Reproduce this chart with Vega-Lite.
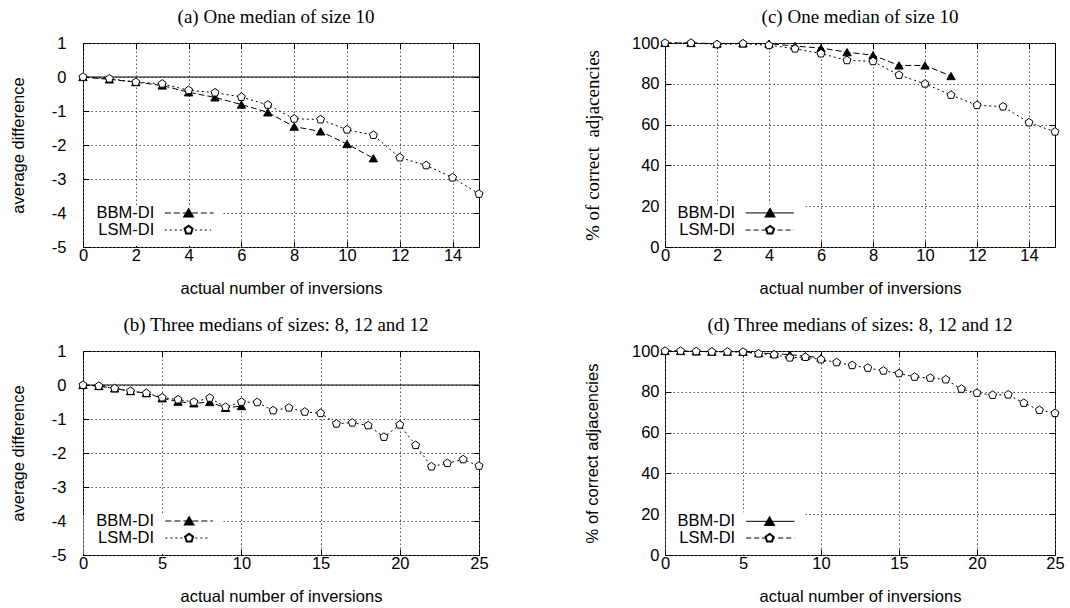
{
  "$schema": "https://vega.github.io/schema/vega-lite/v6.json",
  "padding": {"left": 9, "top": 7, "right": 5, "bottom": 5},
  "bounds": "flush",
  "columns": 2,
  "spacing": {"row": 104, "column": 186},
  "datasets": {
    "pts": [
      {"panel": "a", "series": "BBM-DI", "x": 0, "y": 0},
      {"panel": "a", "series": "BBM-DI", "x": 1, "y": -0.07},
      {"panel": "a", "series": "BBM-DI", "x": 2, "y": -0.15},
      {"panel": "a", "series": "BBM-DI", "x": 3, "y": -0.25},
      {"panel": "a", "series": "BBM-DI", "x": 4, "y": -0.45},
      {"panel": "a", "series": "BBM-DI", "x": 5, "y": -0.6},
      {"panel": "a", "series": "BBM-DI", "x": 6, "y": -0.81},
      {"panel": "a", "series": "BBM-DI", "x": 7, "y": -1.04},
      {"panel": "a", "series": "BBM-DI", "x": 8, "y": -1.46},
      {"panel": "a", "series": "BBM-DI", "x": 9, "y": -1.6},
      {"panel": "a", "series": "BBM-DI", "x": 10, "y": -1.97},
      {"panel": "a", "series": "BBM-DI", "x": 11, "y": -2.39},
      {"panel": "a", "series": "LSM-DI", "x": 0, "y": 0},
      {"panel": "a", "series": "LSM-DI", "x": 1, "y": -0.05},
      {"panel": "a", "series": "LSM-DI", "x": 2, "y": -0.15},
      {"panel": "a", "series": "LSM-DI", "x": 3, "y": -0.2},
      {"panel": "a", "series": "LSM-DI", "x": 4, "y": -0.39},
      {"panel": "a", "series": "LSM-DI", "x": 5, "y": -0.46},
      {"panel": "a", "series": "LSM-DI", "x": 6, "y": -0.59},
      {"panel": "a", "series": "LSM-DI", "x": 7, "y": -0.82},
      {"panel": "a", "series": "LSM-DI", "x": 8, "y": -1.23},
      {"panel": "a", "series": "LSM-DI", "x": 9, "y": -1.25},
      {"panel": "a", "series": "LSM-DI", "x": 10, "y": -1.55},
      {"panel": "a", "series": "LSM-DI", "x": 11, "y": -1.71},
      {"panel": "a", "series": "LSM-DI", "x": 12, "y": -2.37},
      {"panel": "a", "series": "LSM-DI", "x": 13, "y": -2.6},
      {"panel": "a", "series": "LSM-DI", "x": 14, "y": -2.96},
      {"panel": "a", "series": "LSM-DI", "x": 15, "y": -3.44},
      {"panel": "c", "series": "BBM-DI", "x": 0, "y": 100},
      {"panel": "c", "series": "BBM-DI", "x": 1, "y": 100},
      {"panel": "c", "series": "BBM-DI", "x": 2, "y": 99.7},
      {"panel": "c", "series": "BBM-DI", "x": 3, "y": 99.8},
      {"panel": "c", "series": "BBM-DI", "x": 4, "y": 99.7},
      {"panel": "c", "series": "BBM-DI", "x": 5, "y": 98.5},
      {"panel": "c", "series": "BBM-DI", "x": 6, "y": 97.5},
      {"panel": "c", "series": "BBM-DI", "x": 7, "y": 95.5},
      {"panel": "c", "series": "BBM-DI", "x": 8, "y": 94},
      {"panel": "c", "series": "BBM-DI", "x": 9, "y": 89},
      {"panel": "c", "series": "BBM-DI", "x": 10, "y": 89},
      {"panel": "c", "series": "BBM-DI", "x": 11, "y": 83.8},
      {"panel": "c", "series": "LSM-DI", "x": 0, "y": 100},
      {"panel": "c", "series": "LSM-DI", "x": 1, "y": 100},
      {"panel": "c", "series": "LSM-DI", "x": 2, "y": 99.3},
      {"panel": "c", "series": "LSM-DI", "x": 3, "y": 99.7},
      {"panel": "c", "series": "LSM-DI", "x": 4, "y": 98.9},
      {"panel": "c", "series": "LSM-DI", "x": 5, "y": 97.2},
      {"panel": "c", "series": "LSM-DI", "x": 6, "y": 94.8},
      {"panel": "c", "series": "LSM-DI", "x": 7, "y": 91.5},
      {"panel": "c", "series": "LSM-DI", "x": 8, "y": 91},
      {"panel": "c", "series": "LSM-DI", "x": 9, "y": 84.3},
      {"panel": "c", "series": "LSM-DI", "x": 10, "y": 80},
      {"panel": "c", "series": "LSM-DI", "x": 11, "y": 74.5},
      {"panel": "c", "series": "LSM-DI", "x": 12, "y": 69.5},
      {"panel": "c", "series": "LSM-DI", "x": 13, "y": 68.8},
      {"panel": "c", "series": "LSM-DI", "x": 14, "y": 61},
      {"panel": "c", "series": "LSM-DI", "x": 15, "y": 56.5},
      {"panel": "b", "series": "BBM-DI", "x": 0, "y": 0},
      {"panel": "b", "series": "BBM-DI", "x": 1, "y": -0.03},
      {"panel": "b", "series": "BBM-DI", "x": 2, "y": -0.1},
      {"panel": "b", "series": "BBM-DI", "x": 3, "y": -0.18},
      {"panel": "b", "series": "BBM-DI", "x": 4, "y": -0.24},
      {"panel": "b", "series": "BBM-DI", "x": 5, "y": -0.39},
      {"panel": "b", "series": "BBM-DI", "x": 6, "y": -0.49},
      {"panel": "b", "series": "BBM-DI", "x": 7, "y": -0.54},
      {"panel": "b", "series": "BBM-DI", "x": 8, "y": -0.5},
      {"panel": "b", "series": "BBM-DI", "x": 9, "y": -0.67},
      {"panel": "b", "series": "BBM-DI", "x": 10, "y": -0.62},
      {"panel": "b", "series": "LSM-DI", "x": 0, "y": 0},
      {"panel": "b", "series": "LSM-DI", "x": 1, "y": -0.03},
      {"panel": "b", "series": "LSM-DI", "x": 2, "y": -0.1},
      {"panel": "b", "series": "LSM-DI", "x": 3, "y": -0.18},
      {"panel": "b", "series": "LSM-DI", "x": 4, "y": -0.24},
      {"panel": "b", "series": "LSM-DI", "x": 5, "y": -0.37},
      {"panel": "b", "series": "LSM-DI", "x": 6, "y": -0.43},
      {"panel": "b", "series": "LSM-DI", "x": 7, "y": -0.5},
      {"panel": "b", "series": "LSM-DI", "x": 8, "y": -0.38},
      {"panel": "b", "series": "LSM-DI", "x": 9, "y": -0.65},
      {"panel": "b", "series": "LSM-DI", "x": 10, "y": -0.5},
      {"panel": "b", "series": "LSM-DI", "x": 11, "y": -0.51},
      {"panel": "b", "series": "LSM-DI", "x": 12, "y": -0.75},
      {"panel": "b", "series": "LSM-DI", "x": 13, "y": -0.67},
      {"panel": "b", "series": "LSM-DI", "x": 14, "y": -0.79},
      {"panel": "b", "series": "LSM-DI", "x": 15, "y": -0.83},
      {"panel": "b", "series": "LSM-DI", "x": 16, "y": -1.14},
      {"panel": "b", "series": "LSM-DI", "x": 17, "y": -1.11},
      {"panel": "b", "series": "LSM-DI", "x": 18, "y": -1.19},
      {"panel": "b", "series": "LSM-DI", "x": 19, "y": -1.53},
      {"panel": "b", "series": "LSM-DI", "x": 20, "y": -1.17},
      {"panel": "b", "series": "LSM-DI", "x": 21, "y": -1.77},
      {"panel": "b", "series": "LSM-DI", "x": 22, "y": -2.4},
      {"panel": "b", "series": "LSM-DI", "x": 23, "y": -2.3},
      {"panel": "b", "series": "LSM-DI", "x": 24, "y": -2.19},
      {"panel": "b", "series": "LSM-DI", "x": 25, "y": -2.38},
      {"panel": "d", "series": "BBM-DI", "x": 0, "y": 100},
      {"panel": "d", "series": "BBM-DI", "x": 1, "y": 100},
      {"panel": "d", "series": "BBM-DI", "x": 2, "y": 99.8},
      {"panel": "d", "series": "BBM-DI", "x": 3, "y": 99.7},
      {"panel": "d", "series": "BBM-DI", "x": 4, "y": 99.7},
      {"panel": "d", "series": "BBM-DI", "x": 5, "y": 99.6},
      {"panel": "d", "series": "BBM-DI", "x": 6, "y": 99},
      {"panel": "d", "series": "BBM-DI", "x": 7, "y": 98.7},
      {"panel": "d", "series": "BBM-DI", "x": 8, "y": 98.2},
      {"panel": "d", "series": "BBM-DI", "x": 9, "y": 97.5},
      {"panel": "d", "series": "BBM-DI", "x": 10, "y": 96.7},
      {"panel": "d", "series": "LSM-DI", "x": 0, "y": 100},
      {"panel": "d", "series": "LSM-DI", "x": 1, "y": 100},
      {"panel": "d", "series": "LSM-DI", "x": 2, "y": 99.8},
      {"panel": "d", "series": "LSM-DI", "x": 3, "y": 99.6},
      {"panel": "d", "series": "LSM-DI", "x": 4, "y": 99.6},
      {"panel": "d", "series": "LSM-DI", "x": 5, "y": 99.5},
      {"panel": "d", "series": "LSM-DI", "x": 6, "y": 98.7},
      {"panel": "d", "series": "LSM-DI", "x": 7, "y": 98.2},
      {"panel": "d", "series": "LSM-DI", "x": 8, "y": 96.7},
      {"panel": "d", "series": "LSM-DI", "x": 9, "y": 97},
      {"panel": "d", "series": "LSM-DI", "x": 10, "y": 95.8},
      {"panel": "d", "series": "LSM-DI", "x": 11, "y": 94.4},
      {"panel": "d", "series": "LSM-DI", "x": 12, "y": 93},
      {"panel": "d", "series": "LSM-DI", "x": 13, "y": 91.7},
      {"panel": "d", "series": "LSM-DI", "x": 14, "y": 90.3},
      {"panel": "d", "series": "LSM-DI", "x": 15, "y": 89},
      {"panel": "d", "series": "LSM-DI", "x": 16, "y": 87.3},
      {"panel": "d", "series": "LSM-DI", "x": 17, "y": 86.8},
      {"panel": "d", "series": "LSM-DI", "x": 18, "y": 86},
      {"panel": "d", "series": "LSM-DI", "x": 19, "y": 81.4},
      {"panel": "d", "series": "LSM-DI", "x": 20, "y": 79.4},
      {"panel": "d", "series": "LSM-DI", "x": 21, "y": 78.4},
      {"panel": "d", "series": "LSM-DI", "x": 22, "y": 78.6},
      {"panel": "d", "series": "LSM-DI", "x": 23, "y": 74.5},
      {"panel": "d", "series": "LSM-DI", "x": 24, "y": 71},
      {"panel": "d", "series": "LSM-DI", "x": 25, "y": 69.5}
    ]
  },
  "concat": [
    {
      "title": {"text": "(a) One median of size 10", "frame": "group", "baseline": "alphabetic", "offset": -7, "dx": -5},
      "width": 396, "height": 204,
      "resolve": {"axis": {"x": "independent", "y": "independent"}},
      "layer": [
        {
          "data": {"values": [{}]},
          "mark": {"type": "rect", "fill": "white"},
          "encoding": {
            "x": {"datum": 0.04, "type": "quantitative", "scale": {"domain": [0, 15], "nice": false, "zero": false},
                  "axis": {"orient": "top", "labels": false, "grid": false, "title": null, "minExtent": 0, "maxExtent": 0, "labelPadding": 0, "titlePadding": 0, "values": [0, 2, 4, 6, 8, 10, 12, 14]}},
            "x2": {"datum": 5.3},
            "y": {"datum": -4.97, "type": "quantitative", "scale": {"domain": [-5, 1], "nice": false, "zero": false},
                  "axis": {"orient": "right", "labels": false, "grid": false, "title": null, "minExtent": 0, "maxExtent": 0, "labelPadding": 0, "titlePadding": 0, "values": [-5, -4, -3, -2, -1, 0, 1]}},
            "y2": {"datum": -3.82}
          }
        },
        {
          "data": {"values": [{}]},
          "mark": {"type": "rule", "color": "black", "strokeWidth": 1},
          "encoding": {"y": {"datum": 0, "type": "quantitative", "axis": null}}
        },
        {
          "data": {"name": "pts"},
          "transform": [{"filter": "datum.panel == 'a'"}],
          "mark": {"type": "line", "color": "black", "strokeWidth": 1},
          "encoding": {
            "x": {"field": "x", "type": "quantitative", "scale": {"domain": [0, 15], "nice": false, "zero": false},
                  "axis": {"orient": "bottom", "grid": true, "values": [0, 2, 4, 6, 8, 10, 12, 14], "title": "actual number of inversions", "labelPadding": 6, "minExtent": 22, "maxExtent": 22, "titlePadding": 11}},
            "y": {"field": "y", "type": "quantitative", "scale": {"domain": [-5, 1], "nice": false, "zero": false},
                  "axis": {"orient": "left", "grid": true, "values": [-5, -4, -3, -2, -1, 0, 1], "title": "average difference", "labelPadding": 23, "minExtent": 30, "maxExtent": 30, "titlePadding": 27}},
            "strokeDash": {"field": "series", "type": "nominal", "scale": {"domain": ["BBM-DI", "LSM-DI"], "range": [[6, 3], [2, 3]]}, "legend": null}
          }
        },
        {
          "data": {"name": "pts"},
          "transform": [{"filter": "datum.panel == 'a'"}],
          "mark": {"type": "point", "stroke": "black", "strokeWidth": 1, "opacity": 1, "size": 70},
          "encoding": {
            "x": {"field": "x", "type": "quantitative", "axis": null},
            "y": {"field": "y", "type": "quantitative", "axis": null},
            "shape": {"field": "series", "type": "nominal", "scale": {"domain": ["BBM-DI", "LSM-DI"], "range": ["triangle-up", "M0,-1L0.951,-0.309L0.588,0.809L-0.588,0.809L-0.951,-0.309Z"]}, "legend": null},
            "fill": {"field": "series", "type": "nominal", "scale": {"domain": ["BBM-DI", "LSM-DI"], "range": ["black", "white"]}, "legend": null}
          }
        },
        {
          "data": {"values": [{}]},
          "mark": {"type": "text", "text": "BBM-DI", "align": "right", "baseline": "middle", "fontSize": 16.5, "font": "Liberation Sans", "color": "black"},
          "encoding": {"x": {"datum": 2.7, "type": "quantitative", "axis": null}, "y": {"datum": -4, "type": "quantitative", "axis": null}}
        },
        {
          "data": {"values": [{}]},
          "mark": {"type": "text", "text": "LSM-DI", "align": "right", "baseline": "middle", "fontSize": 16.5, "font": "Liberation Sans", "color": "black"},
          "encoding": {"x": {"datum": 2.7, "type": "quantitative", "axis": null}, "y": {"datum": -4.5, "type": "quantitative", "axis": null}}
        },
        {
          "data": {"values": [{}]},
          "mark": {"type": "rule", "color": "black", "strokeDash": [6, 3]},
          "encoding": {"x": {"datum": 3.1, "type": "quantitative", "axis": null}, "x2": {"datum": 4.95}, "y": {"datum": -4, "type": "quantitative", "axis": null}}
        },
        {
          "data": {"values": [{}]},
          "mark": {"type": "rule", "color": "black", "strokeDash": [2, 3]},
          "encoding": {"x": {"datum": 3.1, "type": "quantitative", "axis": null}, "x2": {"datum": 4.85}, "y": {"datum": -4.5, "type": "quantitative", "axis": null}}
        },
        {
          "data": {"values": [{}]},
          "mark": {"type": "point", "shape": "triangle-up", "filled": true, "fill": "black", "stroke": "black", "size": 70, "opacity": 1},
          "encoding": {"x": {"datum": 4, "type": "quantitative", "axis": null}, "y": {"datum": -4, "type": "quantitative", "axis": null}}
        },
        {
          "data": {"values": [{}]},
          "mark": {"type": "point", "shape": "M0,-1L0.951,-0.309L0.588,0.809L-0.588,0.809L-0.951,-0.309Z", "filled": true, "fill": "white", "stroke": "black", "size": 70, "opacity": 1},
          "encoding": {"x": {"datum": 4, "type": "quantitative", "axis": null}, "y": {"datum": -4.5, "type": "quantitative", "axis": null}}
        }
      ]
    },
    {
      "title": {"text": "(c) One median of size 10", "frame": "group", "baseline": "alphabetic", "offset": -7},
      "width": 390, "height": 204,
      "resolve": {"axis": {"x": "independent", "y": "independent"}},
      "layer": [
        {
          "data": {"values": [{}]},
          "mark": {"type": "rect", "fill": "white"},
          "encoding": {
            "x": {"datum": 0.04, "type": "quantitative", "scale": {"domain": [0, 15], "nice": false, "zero": false},
                  "axis": {"orient": "top", "labels": false, "grid": false, "title": null, "minExtent": 0, "maxExtent": 0, "labelPadding": 0, "titlePadding": 0, "values": [0, 2, 4, 6, 8, 10, 12, 14]}},
            "x2": {"datum": 5.4},
            "y": {"datum": 0.15, "type": "quantitative", "scale": {"domain": [0, 100], "nice": false, "zero": false},
                  "axis": {"orient": "right", "labels": false, "grid": false, "title": null, "minExtent": 0, "maxExtent": 0, "labelPadding": 0, "titlePadding": 0, "values": [0, 20, 40, 60, 80, 100]}},
            "y2": {"datum": 21}
          }
        },
        {
          "data": {"name": "pts"},
          "transform": [{"filter": "datum.panel == 'c'"}],
          "mark": {"type": "line", "color": "black", "strokeWidth": 1},
          "encoding": {
            "x": {"field": "x", "type": "quantitative", "scale": {"domain": [0, 15], "nice": false, "zero": false},
                  "axis": {"orient": "bottom", "grid": true, "values": [0, 2, 4, 6, 8, 10, 12, 14], "title": "actual number of inversions", "labelPadding": 6, "minExtent": 22, "maxExtent": 22, "titlePadding": 11}},
            "y": {"field": "y", "type": "quantitative", "scale": {"domain": [0, 100], "nice": false, "zero": false},
                  "axis": {"orient": "left", "grid": true, "values": [0, 20, 40, 60, 80, 100], "title": "% of correct\u00a0 adjacencies", "titleFont": "Liberation Serif", "titleFontSize": 19, "labelPadding": 12, "minExtent": 34, "maxExtent": 34, "titlePadding": 29}},
            "strokeDash": {"field": "series", "type": "nominal", "scale": {"domain": ["BBM-DI", "LSM-DI"], "range": [[1, 0], [5, 3]]}, "legend": null}
          }
        },
        {
          "data": {"name": "pts"},
          "transform": [{"filter": "datum.panel == 'c'"}],
          "mark": {"type": "point", "stroke": "black", "strokeWidth": 1, "opacity": 1, "size": 70},
          "encoding": {
            "x": {"field": "x", "type": "quantitative", "axis": null},
            "y": {"field": "y", "type": "quantitative", "axis": null},
            "shape": {"field": "series", "type": "nominal", "scale": {"domain": ["BBM-DI", "LSM-DI"], "range": ["triangle-up", "M0,-1L0.951,-0.309L0.588,0.809L-0.588,0.809L-0.951,-0.309Z"]}, "legend": null},
            "fill": {"field": "series", "type": "nominal", "scale": {"domain": ["BBM-DI", "LSM-DI"], "range": ["black", "white"]}, "legend": null}
          }
        },
        {
          "data": {"values": [{}]},
          "mark": {"type": "text", "text": "BBM-DI", "align": "right", "baseline": "middle", "fontSize": 16.5, "font": "Liberation Sans", "color": "black"},
          "encoding": {"x": {"datum": 2.7, "type": "quantitative", "axis": null}, "y": {"datum": 16.7, "type": "quantitative", "axis": null}}
        },
        {
          "data": {"values": [{}]},
          "mark": {"type": "text", "text": "LSM-DI", "align": "right", "baseline": "middle", "fontSize": 16.5, "font": "Liberation Sans", "color": "black"},
          "encoding": {"x": {"datum": 2.7, "type": "quantitative", "axis": null}, "y": {"datum": 8.3, "type": "quantitative", "axis": null}}
        },
        {
          "data": {"values": [{}]},
          "mark": {"type": "rule", "color": "black"},
          "encoding": {"x": {"datum": 3.1, "type": "quantitative", "axis": null}, "x2": {"datum": 4.96}, "y": {"datum": 16.7, "type": "quantitative", "axis": null}}
        },
        {
          "data": {"values": [{}]},
          "mark": {"type": "rule", "color": "black", "strokeDash": [5, 3]},
          "encoding": {"x": {"datum": 3.1, "type": "quantitative", "axis": null}, "x2": {"datum": 4.96}, "y": {"datum": 8.3, "type": "quantitative", "axis": null}}
        },
        {
          "data": {"values": [{}]},
          "mark": {"type": "point", "shape": "triangle-up", "filled": true, "fill": "black", "stroke": "black", "size": 70, "opacity": 1},
          "encoding": {"x": {"datum": 4.04, "type": "quantitative", "axis": null}, "y": {"datum": 16.7, "type": "quantitative", "axis": null}}
        },
        {
          "data": {"values": [{}]},
          "mark": {"type": "point", "shape": "M0,-1L0.951,-0.309L0.588,0.809L-0.588,0.809L-0.951,-0.309Z", "filled": true, "fill": "white", "stroke": "black", "size": 70, "opacity": 1},
          "encoding": {"x": {"datum": 4.04, "type": "quantitative", "axis": null}, "y": {"datum": 8.3, "type": "quantitative", "axis": null}}
        }
      ]
    },
    {
      "title": {"text": "(b) Three medians of sizes: 8, 12 and 12", "frame": "group", "baseline": "alphabetic", "offset": -7, "dx": -5},
      "width": 396, "height": 204,
      "resolve": {"axis": {"x": "independent", "y": "independent"}},
      "layer": [
        {
          "data": {"values": [{}]},
          "mark": {"type": "rect", "fill": "white"},
          "encoding": {
            "x": {"datum": 0.04, "type": "quantitative", "scale": {"domain": [0, 25], "nice": false, "zero": false},
                  "axis": {"orient": "top", "labels": false, "grid": false, "title": null, "minExtent": 0, "maxExtent": 0, "labelPadding": 0, "titlePadding": 0, "values": [0, 5, 10, 15, 20, 25]}},
            "x2": {"datum": 8.84},
            "y": {"datum": -4.97, "type": "quantitative", "scale": {"domain": [-5, 1], "nice": false, "zero": false},
                  "axis": {"orient": "right", "labels": false, "grid": false, "title": null, "minExtent": 0, "maxExtent": 0, "labelPadding": 0, "titlePadding": 0, "values": [-5, -4, -3, -2, -1, 0, 1]}},
            "y2": {"datum": -3.82}
          }
        },
        {
          "data": {"values": [{}]},
          "mark": {"type": "rule", "color": "black", "strokeWidth": 1},
          "encoding": {"y": {"datum": 0, "type": "quantitative", "axis": null}}
        },
        {
          "data": {"name": "pts"},
          "transform": [{"filter": "datum.panel == 'b'"}],
          "mark": {"type": "line", "color": "black", "strokeWidth": 1},
          "encoding": {
            "x": {"field": "x", "type": "quantitative", "scale": {"domain": [0, 25], "nice": false, "zero": false},
                  "axis": {"orient": "bottom", "grid": true, "values": [0, 5, 10, 15, 20, 25], "title": "actual number of inversions", "labelPadding": 6, "minExtent": 22, "maxExtent": 22, "titlePadding": 11}},
            "y": {"field": "y", "type": "quantitative", "scale": {"domain": [-5, 1], "nice": false, "zero": false},
                  "axis": {"orient": "left", "grid": true, "values": [-5, -4, -3, -2, -1, 0, 1], "title": "average difference", "labelPadding": 23, "minExtent": 30, "maxExtent": 30, "titlePadding": 27}},
            "strokeDash": {"field": "series", "type": "nominal", "scale": {"domain": ["BBM-DI", "LSM-DI"], "range": [[6, 3], [2, 3]]}, "legend": null}
          }
        },
        {
          "data": {"name": "pts"},
          "transform": [{"filter": "datum.panel == 'b'"}],
          "mark": {"type": "point", "stroke": "black", "strokeWidth": 1, "opacity": 1, "size": 70},
          "encoding": {
            "x": {"field": "x", "type": "quantitative", "axis": null},
            "y": {"field": "y", "type": "quantitative", "axis": null},
            "shape": {"field": "series", "type": "nominal", "scale": {"domain": ["BBM-DI", "LSM-DI"], "range": ["triangle-up", "M0,-1L0.951,-0.309L0.588,0.809L-0.588,0.809L-0.951,-0.309Z"]}, "legend": null},
            "fill": {"field": "series", "type": "nominal", "scale": {"domain": ["BBM-DI", "LSM-DI"], "range": ["black", "white"]}, "legend": null}
          }
        },
        {
          "data": {"values": [{}]},
          "mark": {"type": "text", "text": "BBM-DI", "align": "right", "baseline": "middle", "fontSize": 16.5, "font": "Liberation Sans", "color": "black"},
          "encoding": {"x": {"datum": 4.48, "type": "quantitative", "axis": null}, "y": {"datum": -4, "type": "quantitative", "axis": null}}
        },
        {
          "data": {"values": [{}]},
          "mark": {"type": "text", "text": "LSM-DI", "align": "right", "baseline": "middle", "fontSize": 16.5, "font": "Liberation Sans", "color": "black"},
          "encoding": {"x": {"datum": 4.48, "type": "quantitative", "axis": null}, "y": {"datum": -4.5, "type": "quantitative", "axis": null}}
        },
        {
          "data": {"values": [{}]},
          "mark": {"type": "rule", "color": "black", "strokeDash": [6, 3]},
          "encoding": {"x": {"datum": 5.2, "type": "quantitative", "axis": null}, "x2": {"datum": 8.2}, "y": {"datum": -4, "type": "quantitative", "axis": null}}
        },
        {
          "data": {"values": [{}]},
          "mark": {"type": "rule", "color": "black", "strokeDash": [2, 3]},
          "encoding": {"x": {"datum": 5.2, "type": "quantitative", "axis": null}, "x2": {"datum": 8.0}, "y": {"datum": -4.5, "type": "quantitative", "axis": null}}
        },
        {
          "data": {"values": [{}]},
          "mark": {"type": "point", "shape": "triangle-up", "filled": true, "fill": "black", "stroke": "black", "size": 70, "opacity": 1},
          "encoding": {"x": {"datum": 6.7, "type": "quantitative", "axis": null}, "y": {"datum": -4, "type": "quantitative", "axis": null}}
        },
        {
          "data": {"values": [{}]},
          "mark": {"type": "point", "shape": "M0,-1L0.951,-0.309L0.588,0.809L-0.588,0.809L-0.951,-0.309Z", "filled": true, "fill": "white", "stroke": "black", "size": 70, "opacity": 1},
          "encoding": {"x": {"datum": 6.7, "type": "quantitative", "axis": null}, "y": {"datum": -4.5, "type": "quantitative", "axis": null}}
        }
      ]
    },
    {
      "title": {"text": "(d) Three medians of sizes: 8, 12 and 12", "frame": "group", "baseline": "alphabetic", "offset": -7},
      "width": 390, "height": 204,
      "resolve": {"axis": {"x": "independent", "y": "independent"}},
      "layer": [
        {
          "data": {"values": [{}]},
          "mark": {"type": "rect", "fill": "white"},
          "encoding": {
            "x": {"datum": 0.06, "type": "quantitative", "scale": {"domain": [0, 25], "nice": false, "zero": false},
                  "axis": {"orient": "top", "labels": false, "grid": false, "title": null, "minExtent": 0, "maxExtent": 0, "labelPadding": 0, "titlePadding": 0, "values": [0, 5, 10, 15, 20, 25]}},
            "x2": {"datum": 9.0},
            "y": {"datum": 0.15, "type": "quantitative", "scale": {"domain": [0, 100], "nice": false, "zero": false},
                  "axis": {"orient": "right", "labels": false, "grid": false, "title": null, "minExtent": 0, "maxExtent": 0, "labelPadding": 0, "titlePadding": 0, "values": [0, 20, 40, 60, 80, 100]}},
            "y2": {"datum": 21}
          }
        },
        {
          "data": {"name": "pts"},
          "transform": [{"filter": "datum.panel == 'd'"}],
          "mark": {"type": "line", "color": "black", "strokeWidth": 1},
          "encoding": {
            "x": {"field": "x", "type": "quantitative", "scale": {"domain": [0, 25], "nice": false, "zero": false},
                  "axis": {"orient": "bottom", "grid": true, "values": [0, 5, 10, 15, 20, 25], "title": "actual number of inversions", "labelPadding": 6, "minExtent": 22, "maxExtent": 22, "titlePadding": 11}},
            "y": {"field": "y", "type": "quantitative", "scale": {"domain": [0, 100], "nice": false, "zero": false},
                  "axis": {"orient": "left", "grid": true, "values": [0, 20, 40, 60, 80, 100], "title": "% of correct adjacencies", "labelPadding": 12, "minExtent": 34, "maxExtent": 34, "titlePadding": 31}},
            "strokeDash": {"field": "series", "type": "nominal", "scale": {"domain": ["BBM-DI", "LSM-DI"], "range": [[1, 0], [5, 3]]}, "legend": null}
          }
        },
        {
          "data": {"name": "pts"},
          "transform": [{"filter": "datum.panel == 'd'"}],
          "mark": {"type": "point", "stroke": "black", "strokeWidth": 1, "opacity": 1, "size": 70},
          "encoding": {
            "x": {"field": "x", "type": "quantitative", "axis": null},
            "y": {"field": "y", "type": "quantitative", "axis": null},
            "shape": {"field": "series", "type": "nominal", "scale": {"domain": ["BBM-DI", "LSM-DI"], "range": ["triangle-up", "M0,-1L0.951,-0.309L0.588,0.809L-0.588,0.809L-0.951,-0.309Z"]}, "legend": null},
            "fill": {"field": "series", "type": "nominal", "scale": {"domain": ["BBM-DI", "LSM-DI"], "range": ["black", "white"]}, "legend": null}
          }
        },
        {
          "data": {"values": [{}]},
          "mark": {"type": "text", "text": "BBM-DI", "align": "right", "baseline": "middle", "fontSize": 16.5, "font": "Liberation Sans", "color": "black"},
          "encoding": {"x": {"datum": 4.5, "type": "quantitative", "axis": null}, "y": {"datum": 16.5, "type": "quantitative", "axis": null}}
        },
        {
          "data": {"values": [{}]},
          "mark": {"type": "text", "text": "LSM-DI", "align": "right", "baseline": "middle", "fontSize": 16.5, "font": "Liberation Sans", "color": "black"},
          "encoding": {"x": {"datum": 4.5, "type": "quantitative", "axis": null}, "y": {"datum": 8.3, "type": "quantitative", "axis": null}}
        },
        {
          "data": {"values": [{}]},
          "mark": {"type": "rule", "color": "black"},
          "encoding": {"x": {"datum": 5.2, "type": "quantitative", "axis": null}, "x2": {"datum": 8.3}, "y": {"datum": 16.5, "type": "quantitative", "axis": null}}
        },
        {
          "data": {"values": [{}]},
          "mark": {"type": "rule", "color": "black", "strokeDash": [5, 3]},
          "encoding": {"x": {"datum": 5.2, "type": "quantitative", "axis": null}, "x2": {"datum": 8.3}, "y": {"datum": 8.3, "type": "quantitative", "axis": null}}
        },
        {
          "data": {"values": [{}]},
          "mark": {"type": "point", "shape": "triangle-up", "filled": true, "fill": "black", "stroke": "black", "size": 70, "opacity": 1},
          "encoding": {"x": {"datum": 6.7, "type": "quantitative", "axis": null}, "y": {"datum": 16.5, "type": "quantitative", "axis": null}}
        },
        {
          "data": {"values": [{}]},
          "mark": {"type": "point", "shape": "M0,-1L0.951,-0.309L0.588,0.809L-0.588,0.809L-0.951,-0.309Z", "filled": true, "fill": "white", "stroke": "black", "size": 70, "opacity": 1},
          "encoding": {"x": {"datum": 6.7, "type": "quantitative", "axis": null}, "y": {"datum": 8.3, "type": "quantitative", "axis": null}}
        }
      ]
    }
  ],
  "config": {
    "background": "white",
    "view": {"stroke": "black", "strokeWidth": 1},
    "font": "Liberation Sans",
    "axis": {
      "labelFont": "Liberation Sans", "labelFontSize": 16.5, "labelColor": "black",
      "labelExpr": "'' + datum.value", "labelFlush": false, "labelOverlap": false,
      "titleFont": "Liberation Sans", "titleFontSize": 16.5, "titleFontWeight": "normal", "titleColor": "black",
      "domain": false,
      "gridColor": "#555", "gridDash": [1.5, 2.5], "gridWidth": 1, "gridOpacity": 1,
      "ticks": true, "tickColor": "black", "tickSize": -6, "tickWidth": 1
    },
    "title": {"font": "Liberation Serif", "fontSize": 19, "fontWeight": "normal", "color": "black", "anchor": "middle"}
  }
}
